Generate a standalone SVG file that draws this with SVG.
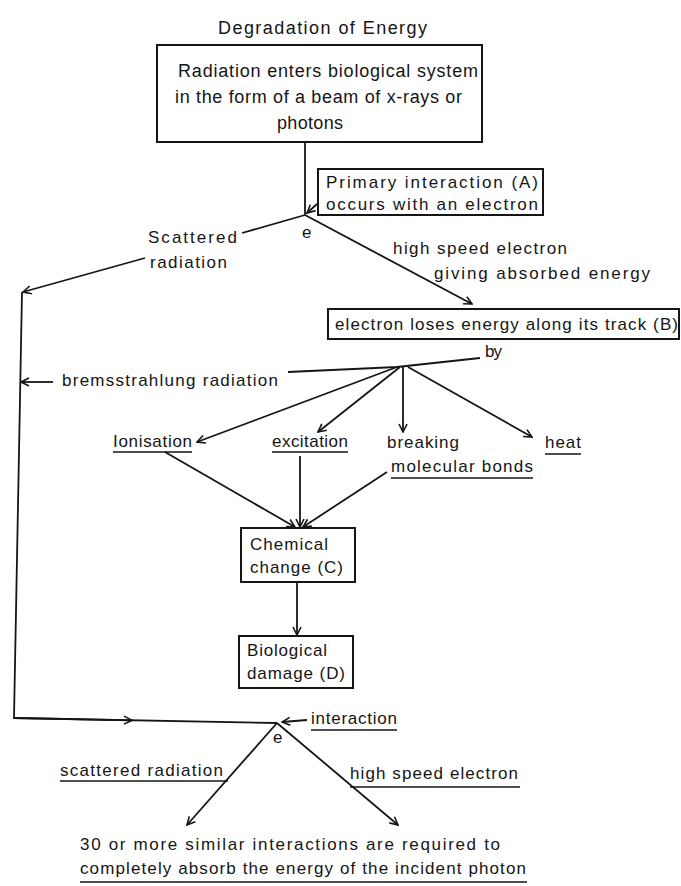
<svg xmlns="http://www.w3.org/2000/svg" width="681" height="886" viewBox="0 0 681 886">
<defs>
<style>
.t{font-family:"Liberation Sans",Arial,sans-serif;font-size:17px;fill:#151515}
.big{font-size:18px}
.ln{stroke:#151515;stroke-width:1.8;fill:none}
.ul{stroke:#151515;stroke-width:1.3;fill:none}
.box{fill:#fff;stroke:#151515;stroke-width:2}
</style>
<marker id="ah" viewBox="0 0 10 10" refX="9" refY="5" markerWidth="10" markerHeight="10" markerUnits="userSpaceOnUse" orient="auto">
<path d="M1,1 L9,5 L1,9" fill="none" stroke="#151515" stroke-width="1.6"/>
</marker>
</defs>
<rect width="681" height="886" fill="#fff"/>

<text class="t big" x="218" y="34" textLength="209">Degradation of Energy</text>

<g id="connectors">
<line class="ln" x1="305" y1="142" x2="305" y2="215"/>
<line class="ln" x1="317" y1="204" x2="307" y2="213" marker-end="url(#ah)"/>
<line class="ln" x1="305" y1="215" x2="242" y2="233"/>
<line class="ln" x1="145" y1="258" x2="23" y2="292" marker-end="url(#ah)"/>
<line class="ln" x1="305" y1="215" x2="472" y2="304" marker-end="url(#ah)"/>
<polyline class="ln" points="480,358 397,367 288,372"/>
<line class="ln" x1="397" y1="367" x2="197" y2="442" marker-end="url(#ah)"/>
<line class="ln" x1="400" y1="367" x2="318" y2="432" marker-end="url(#ah)"/>
<line class="ln" x1="403" y1="367" x2="403" y2="432" marker-end="url(#ah)"/>
<line class="ln" x1="408" y1="367" x2="532" y2="437" marker-end="url(#ah)"/>
<line class="ln" x1="165" y1="452" x2="295" y2="527" marker-end="url(#ah)"/>
<line class="ln" x1="300" y1="456" x2="300" y2="527" marker-end="url(#ah)"/>
<line class="ln" x1="387" y1="472" x2="303" y2="527" marker-end="url(#ah)"/>
<line class="ln" x1="297" y1="582" x2="297" y2="635" marker-end="url(#ah)"/>
<polyline class="ln" points="22,292 14,718 277,723"/>
<line class="ln" x1="14" y1="718" x2="132" y2="720.3" marker-end="url(#ah)"/>
<line class="ln" x1="53" y1="382" x2="21" y2="382" marker-end="url(#ah)"/>
<line class="ln" x1="307" y1="720" x2="282" y2="722" marker-end="url(#ah)"/>
<line class="ln" x1="277" y1="723" x2="187" y2="825" marker-end="url(#ah)"/>
<line class="ln" x1="277" y1="723" x2="398" y2="825" marker-end="url(#ah)"/>
</g>

<g id="n_radiation">
<rect class="box" x="157" y="45" width="325" height="97"/>
<text class="t big" x="178" y="77" textLength="300">Radiation enters biological system</text>
<text class="t big" x="175" y="103" textLength="287">in the form of a beam of x-rays or</text>
<text class="t big" x="277" y="129" textLength="66">photons</text>
</g>

<g id="n_primary">
<rect class="box" x="318" y="169" width="225" height="46"/>
<text class="t" x="326" y="188" textLength="212">Primary interaction (A)</text>
<text class="t" x="326" y="210" textLength="212">occurs with an electron</text>
</g>

<g id="l_e1"><text class="t" x="302" y="238">e</text></g>

<g id="l_scattered">
<text class="t" x="148" y="243" textLength="89">Scattered</text>
<text class="t" x="150" y="268" textLength="77">radiation</text>
</g>

<g id="l_hse">
<text class="t" x="393" y="254" textLength="174">high speed electron</text>
<text class="t" x="434" y="279" textLength="216">giving absorbed energy</text>
</g>

<g id="n_track">
<rect class="box" x="328" y="309" width="351" height="30"/>
<text class="t" x="335" y="330" textLength="343">electron loses energy along its track (B)</text>
</g>

<g id="l_by"><text class="t" x="485" y="357" textLength="17">by</text></g>

<g id="l_brems"><text class="t" x="62" y="386" textLength="216">bremsstrahlung radiation</text></g>

<g id="n_ionisation">
<text class="t" x="113" y="447" textLength="79">Ionisation</text>
<line class="ul" x1="113" y1="452" x2="192" y2="452"/>
</g>
<g id="n_excitation">
<text class="t" x="272" y="447" textLength="76">excitation</text>
<line class="ul" x1="272" y1="452" x2="348" y2="452"/>
</g>
<g id="n_breaking">
<text class="t" x="387" y="448" textLength="72">breaking</text>
<text class="t" x="391" y="472" textLength="142">molecular bonds</text>
<line class="ul" x1="391" y1="478" x2="533" y2="478"/>
</g>
<g id="n_heat">
<text class="t" x="545" y="448" textLength="36">heat</text>
<line class="ul" x1="545" y1="454" x2="581" y2="454"/>
</g>

<g id="n_chemical">
<rect class="box" x="241" y="528" width="114" height="54"/>
<text class="t" x="250" y="550" textLength="78">Chemical</text>
<text class="t" x="250" y="573" textLength="93">change (C)</text>
</g>

<g id="n_biological">
<rect class="box" x="239" y="636" width="114" height="52"/>
<text class="t" x="247" y="656" textLength="80">Biological</text>
<text class="t" x="247" y="679" textLength="98">damage (D)</text>
</g>

<g id="l_interaction">
<text class="t" x="311" y="724" textLength="86">interaction</text>
<line class="ul" x1="311" y1="730" x2="397" y2="730"/>
</g>

<g id="l_e2"><text class="t" x="273" y="743">e</text></g>

<g id="l_scattered2">
<text class="t" x="60" y="776" textLength="163">scattered radiation</text>
<line class="ul" x1="60" y1="781" x2="228" y2="781"/>
</g>
<g id="l_hse2">
<text class="t" x="350" y="779" textLength="168">high speed electron</text>
<line class="ul" x1="350" y1="787" x2="520" y2="787"/>
</g>

<g id="n_final">
<text class="t" x="80" y="850" textLength="420">30 or more similar interactions are required to</text>
<text class="t" x="80" y="874" textLength="446">completely absorb the energy of the incident photon</text>
<line class="ul" x1="80" y1="882" x2="527" y2="882"/>
</g>
</svg>
